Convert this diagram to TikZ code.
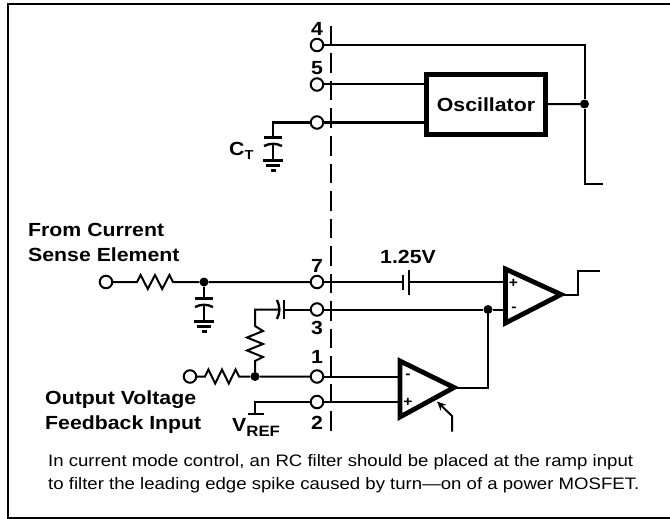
\documentclass[tikz,border=0pt]{standalone}
\usepackage{fontspec}
\setmainfont[FakeStretch=1.12]{Liberation Sans}
\usetikzlibrary{arrows.meta}
\tikzset{
    wire/.style={line width=2pt},
    plate/.style={line width=2.4pt},
    pin/.style={circle,draw,line width=2pt,fill=white,minimum size=12.5pt,inner sep=0pt,outer sep=0pt},
    dot/.style={circle,fill=black,minimum size=9pt,inner sep=0pt},
    lbl/.style={font=\bfseries\fontsize{19}{24}\selectfont,inner sep=0pt},
    sign/.style={font=\bfseries\fontsize{14}{14}\selectfont,inner sep=0pt},
    amp/.style={line width=4.8pt,miter limit=10,line join=miter},
}
\newcommand{\rzig}[1]{% resistor going right, #1 long
    -- ++(#1*0.1,-7) -- ++(#1*0.2,14) -- ++(#1*0.2,-14) -- ++(#1*0.2,14) -- ++(#1*0.2,-14) -- ++(#1*0.1,7)}
\begin{document}
\begin{tikzpicture}[x=1pt,y=-1pt]
    \useasboundingbox (0,0) rectangle (670,519);
    \draw[line width=1.5pt] (670,4) -- (8,4) -- (8,518) -- (670,518);
    % package boundary
    \draw[wire,dash pattern=on 19.5pt off 8pt] (331,26) -- (331,431);
    % pins
    \node[pin] (p4) at (317,45) {};
    \node[pin] (p5) at (317,84.5) {};
    \node[pin] (pc) at (317,122.5) {};
    \node[pin] (p7) at (317,282) {};
    \node[pin] (p3) at (317,309.5) {};
    \node[pin] (p1) at (317,376.5) {};
    \node[pin] (p2) at (317,402) {};
    \node[lbl] at (317,29) {4};
    \node[lbl] at (317,68) {5};
    \node[lbl] at (317,265.5) {7};
    \node[lbl] at (317,328) {3};
    \node[lbl] at (317,357) {1};
    \node[lbl] at (317,423) {2};
    % oscillator
    \node[draw,line width=5pt,minimum width=119pt,minimum height=60pt,inner sep=0pt,outer sep=0pt,lbl] (osc) at (486,104.5) {Oscillator};
    \node[dot] (d1) at (584.5,104) {};
    \coordinate (c1) at (603,184);
    \draw[wire] (p4) -- (584.5,45) -- (d1) -- (584.5,184) -- (c1);
    \draw[wire] (p5) -- (osc.west |- p5);
    \draw[wire] (pc) -- (osc.west |- pc);
    \draw[wire] (osc) -- (d1);
    % timing capacitor
    \draw[wire] (pc) -- (272.7,122.5) -- (272.7,137);
    \draw[plate] (264,137.5) -- (282,137.5);
    \draw[plate] (264,146) to[bend left=25] (282,146);
    \draw[wire] (272.7,143) -- (272.7,160);
    \draw[plate] (263,160.5) -- (283,160.5);
    \draw[plate] (265.5,165.5) -- (280,165.5);
    \draw[plate] (270.5,170.5) -- (275.5,170.5);
    \node[lbl,anchor=west] at (229,151) {C\raisebox{-0.4ex}{\fontsize{13}{13}\selectfont T}};
    % current sense input
    \node[lbl,anchor=west,align=left,font=\bfseries\fontsize{19}{25}\selectfont] at (28,242) {From Current\\Sense Element};
    \node[pin] (pin) at (106,282) {};
    \node[dot] (d2) at (204,282) {};
    \draw[wire] (pin) -- (137,282) \rzig{36} -- (d2) -- (p7);
    \draw[wire] (d2) -- (204,298);
    \draw[plate] (195,298.5) -- (213,298.5);
    \draw[plate] (195,307) to[bend left=25] (213,307);
    \draw[wire] (204,304) -- (204,321);
    \draw[plate] (194,321.5) -- (214,321.5);
    \draw[plate] (196.5,326.5) -- (211,326.5);
    \draw[plate] (201.5,331.5) -- (206.5,331.5);
    % compensation network
    \node[pin] (pfb) at (190,376.5) {};
    \node[dot] (d3) at (255,376.5) {};
    \draw[wire] (p3) -- (284,309.5);
    \draw[plate] (284,300) -- (284,319);
    \draw[plate] (277,300) to[bend left=25] (277,319);
    \draw[wire] (280,309.5) -- (255,309.5) -- (255,326) -- ++(8,5) -- ++(-16,6.5) -- ++(16,6.5) -- ++(-16,6.5) -- ++(16,6.5) -- ++(-8,4) -- (d3);
    \draw[wire] (pfb) -- (205,376.5) \rzig{34} -- (d3) -- (p1);
    % vref
    \coordinate (v1) at (255,402);
    \draw[wire] (p2) -- (v1) -- (255,413);
    \draw[wire] (247.5,413.5) -- (264,413.5);
    \node[lbl,anchor=west] at (232,427) {V\raisebox{-0.5ex}{\fontsize{15}{15}\selectfont REF}};
    \node[lbl,anchor=west,align=left,font=\bfseries\fontsize{19}{25}\selectfont] at (45,412.5) {Output Voltage\\Feedback Input};
    % comparators
    \draw[amp] (505.5,269) -- (561,294.5) -- (505.5,323) -- cycle;
    \draw[amp] (400,361) -- (454,387.5) -- (400,417) -- cycle;
    \node[dot] (d4) at (488,309.5) {};
    \draw[wire] (p7) -- (403,282);
    \draw[plate] (403,275) -- (403,290);
    \draw[plate] (409,270) -- (409,295);
    \draw[wire] (409,282) -- (504,282);
    \draw[wire] (p3) -- (d4) -- (504,309.5);
    \draw[wire] (563,294.5) -- (578,294.5) -- (578,270.5) -- (600,270.5);
    \draw[wire] (p1) -- (398,376.5);
    \draw[wire] (p2) -- (398,402);
    \draw[wire] (456,387.5) -- (488,387.5) -- (d4);
    \draw[wire,-{Stealth[length=9pt,width=8pt]}] (452,431.5) -- (452,416) -- (437,401.5);
    % signs
    \node[sign] at (513.5,283) {+};
    \node[sign] at (514,309.5) {-};
    \node[sign] at (408,376.5) {-};
    \node[sign] at (408,402.5) {+};
    \node[lbl] at (408,257) {1.25V};
    % note
    \node[anchor=west,align=left,inner sep=0pt,font=\fontsize{16.6}{22.5}\selectfont] at (48,473.5) {In current mode control, an RC filter should be placed at the ramp input\\to filter the leading edge spike caused by turn—on of a power MOSFET.};
\end{tikzpicture}
\end{document}
